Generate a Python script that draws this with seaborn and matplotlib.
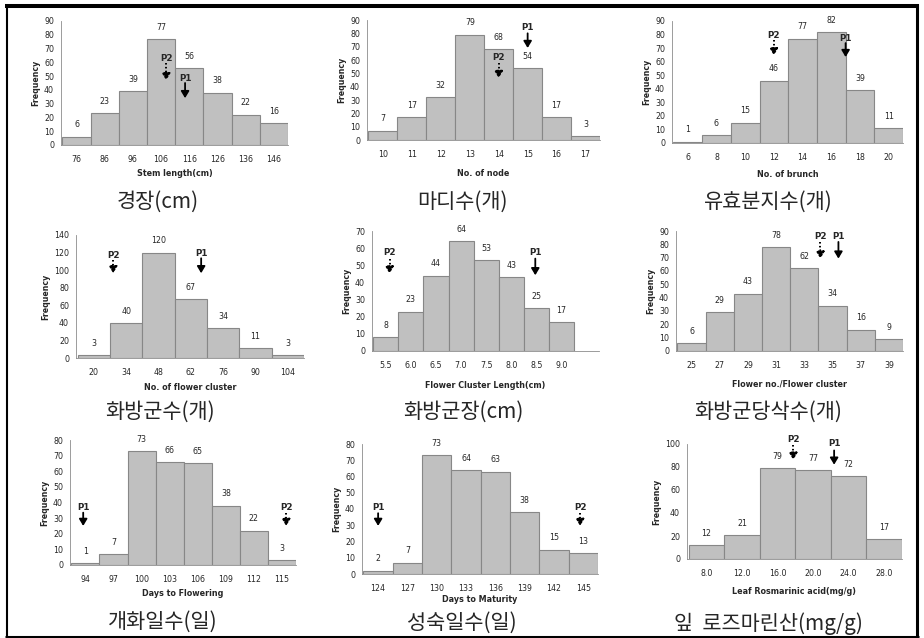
import numpy as np
import matplotlib.pyplot as plt
import seaborn as sns

# ---- data ----
stem_ticks = ["76", "86", "96", "106", "116", "126", "136", "146"]
stem_freq = [6, 23, 39, 77, 56, 38, 22, 16]

node_ticks = ["10", "11", "12", "13", "14", "15", "16", "17"]
node_freq = [7, 17, 32, 79, 68, 54, 17, 3]

branch_ticks = ["6", "8", "10", "12", "14", "16", "18", "20"]
branch_freq = [1, 6, 15, 46, 77, 82, 39, 11]

cluster_ticks = ["20", "34", "48", "62", "76", "90", "104"]
cluster_freq = [3, 40, 120, 67, 34, 11, 3]

clen_ticks = ["5.5", "6.0", "6.5", "7.0", "7.5", "8.0", "8.5", "9.0"]
clen_freq = [8, 23, 44, 64, 53, 43, 25, 17]

fpc_ticks = ["25", "27", "29", "31", "33", "35", "37", "39"]
fpc_freq = [6, 29, 43, 78, 62, 34, 16, 9]

dtf_ticks = ["94", "97", "100", "103", "106", "109", "112", "115"]
dtf_freq = [1, 7, 73, 66, 65, 38, 22, 3]

dtm_ticks = ["124", "127", "130", "133", "136", "139", "142", "145"]
dtm_freq = [2, 7, 73, 64, 63, 38, 15, 13]

ra_ticks = ["8.0", "12.0", "16.0", "20.0", "24.0", "28.0"]
ra_freq = [12, 21, 79, 77, 72, 17]

xlabels = ["Stem length(cm)", "No. of node", "No. of brunch",
           "No. of flower cluster", "Flower Cluster Length(cm)", "Flower no./Flower cluster",
           "Days to Flowering", "Days to Maturity", "Leaf Rosmarinic acid(mg/g)"]
titles = ["경장(cm)", "마디수(개)", "유효분지수(개)",
          "화방군수(개)", "화방군장(cm)", "화방군당삭수(개)",
          "개화일수(일)", "성숙일수(일)", "잎  로즈마린산(mg/g)"]

# parent marker arrows: (name, x position, label y, arrow top, arrow tip)
arrows = [
    [("P2", 3.18, 63, 59.5, 47), ("P1", 3.85, 48.6, 45, 34)],
    [("P1", 5.0, 84, 80, 69), ("P2", 4.0, 61.5, 57.5, 46.5)],
    [("P2", 3.0, 79.4, 75.7, 64.7), ("P1", 5.5, 77.4, 73.7, 63.4)],
    [("P2", 0.6, 117, 111.6, 96.5), ("P1", 3.32, 119, 113.5, 96.5)],
    [("P2", 0.15, 57.2, 53.9, 45.2), ("P1", 5.96, 57.2, 53.9, 44.2)],
    [("P2", 4.57, 86, 81.8, 69.3), ("P1", 5.21, 86, 81.8, 69.3)],
    [("P1", -0.08, 36.9, 33.5, 25), ("P2", 7.15, 36.9, 33.5, 25)],
    [("P1", 0.0, 41.1, 37.4, 29.6), ("P2", 6.89, 41.1, 37.4, 29.6)],
    [("P2", 2.44, 104, 99.4, 86.3), ("P1", 3.59, 100, 94.4, 82)],
]

panels = [
    (stem_ticks, stem_freq, 90, 10),
    (node_ticks, node_freq, 90, 10),
    (branch_ticks, branch_freq, 90, 10),
    (cluster_ticks, cluster_freq, 140, 20),
    (clen_ticks, clen_freq, 70, 10),
    (fpc_ticks, fpc_freq, 90, 10),
    (dtf_ticks, dtf_freq, 80, 10),
    (dtm_ticks, dtm_freq, 80, 10),
    (ra_ticks, ra_freq, 100, 20),
]

# layout in pixels: axes box (left, top, right, bottom), xlabel y, title x, title y, slots
layout = [
    ((61, 21, 288, 145), 174, 158, 202, 8),
    ((367, 20, 600, 140), 173, 462, 202, 8),
    ((672, 21, 903, 143), 175, 768, 202, 8),
    ((76, 235, 304, 358), 387, 160, 412, 7),
    ((372, 231, 599, 351), 386, 463, 412, 9),
    ((676, 231, 903, 351), 384, 768, 412, 8),
    ((70, 440, 296, 565), 594, 163, 622, 8),
    ((362, 444, 598, 574), 599, 462, 623, 8),
    ((687, 444, 902, 559), 591, 768, 624, 6),
]

sns.set_style("white")
plt.rcParams["font.family"] = ["DejaVu Sans", "Noto Sans CJK KR"]

W, H = 924, 638
BAR = "#c0c0c0"
EDGE = "#878787"
AXC = "#8c8c8c"
SMALL = 5.7

fig = plt.figure(figsize=(W / 100, H / 100), dpi=100)

for k, ((ticks, freq, ymax, ystep), (box, xl_y, t_x, t_y, slots)) in enumerate(zip(panels, layout)):
    l, t, r, b = box
    ax = fig.add_axes([l / W, 1 - b / H, (r - l) / W, (b - t) / H])
    sns.barplot(x=ticks, y=freq, ax=ax, width=1.0, color=BAR, edgecolor=EDGE,
                linewidth=0.8, saturation=1)
    ax.set_xlim(-0.55, slots - 0.5)
    ax.set_ylim(0, ymax)
    ax.set_yticks(np.arange(0, ymax + 1, ystep))
    ax.tick_params(axis="y", length=3, width=0.6, color=AXC, labelsize=SMALL, pad=2)
    ax.tick_params(axis="x", which="major", length=0, labelsize=SMALL, pad=7)
    ax.set_xticks(np.arange(slots + 1) - 0.5, minor=True)
    ax.tick_params(axis="x", which="minor", length=3, width=0.6, color=AXC)
    for side in ["top", "right"]:
        ax.spines[side].set_visible(False)
    for side in ["left", "bottom"]:
        ax.spines[side].set_color(AXC)
        ax.spines[side].set_linewidth(0.6)
    ax.set_xlabel("")
    ax.set_ylabel("Frequency", fontsize=SMALL, fontweight="bold", labelpad=3)

    for i, v in enumerate(freq):
        ax.annotate(str(v), (i, v), xytext=(0, 8.5), textcoords="offset points",
                    ha="center", va="center", fontsize=SMALL, annotation_clip=False)

    for name, x, ly, top, tip in arrows[k]:
        ax.text(x, ly, name, ha="center", va="center", fontsize=6.3,
                fontweight="bold", clip_on=False)
        if name == "P2":
            # dotted shaft, solid head
            ax.plot([x, x], [top, (top + tip) / 2], color="black", lw=1.4,
                    linestyle=(0, (0.8, 1.2)), clip_on=False)
            ax.annotate("", xy=(x, tip), xytext=(x, (top + tip) / 2), annotation_clip=False,
                        arrowprops=dict(arrowstyle="-|>,head_length=0.5,head_width=0.3",
                                        lw=1.3, color="black", linestyle=(0, (0.8, 1.2)),
                                        shrinkA=0, shrinkB=0, mutation_scale=8))
        else:
            ax.annotate("", xy=(x, tip), xytext=(x, top), annotation_clip=False,
                        arrowprops=dict(arrowstyle="-|>,head_length=0.5,head_width=0.3",
                                        lw=1.3, color="black",
                                        shrinkA=0, shrinkB=0, mutation_scale=8))

    fig.text((l + r) / 2 / W, 1 - xl_y / H, xlabels[k], ha="center", va="center",
             fontsize=5.8, fontweight="bold")
    fig.text(t_x / W, 1 - t_y / H, titles[k], ha="center", va="center", fontsize=15,
             family=["Noto Sans CJK KR", "DejaVu Sans"], weight="light")

# black frame around the whole figure
def frame_line(xs, ys, lw):
    fig.add_artist(plt.Line2D([x / W for x in xs], [1 - y / H for y in ys],
                              color="black", lw=lw, solid_capstyle="butt"))

frame_line([5, 919], [6, 6], 2.9)
frame_line([7, 7], [4, 638], 1.5)
frame_line([916.5, 916.5], [4, 638], 2.2)
frame_line([5, 919], [636.5, 636.5], 2.2)

fig.savefig("out.png", dpi=100)
